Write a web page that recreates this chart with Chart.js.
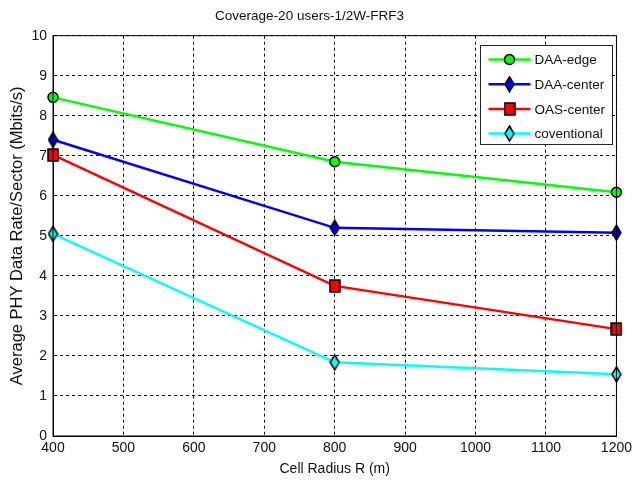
<!DOCTYPE html>
<html lang="en">
<head>
<meta charset="UTF-8">
<title>Coverage-20 users-1/2W-FRF3</title>
<script src="https://cdn.jsdelivr.net/npm/chart.js"></script>
<style>
  html, body { margin: 0; padding: 0; background: #fff; }
  .container { width: 636px; height: 485px; position: relative; }
</style>
</head>
<body>
<div class="container"><canvas id="chart"></canvas></div>
<script>
  // values
  const radius = [400, 800, 1200];
  const daaEdge = [8.46, 6.85, 6.09];
  const daaCenter = [7.4, 5.2, 5.08];
  const oasCenter = [7.02, 3.75, 2.67];
  const conventional = [5.05, 1.84, 1.54];
  const seriesNames = ['DAA-edge', 'DAA-center', 'OAS-center', 'coventional'];
  const xTicks = [400, 500, 600, 700, 800, 900, 1000, 1100, 1200];
  const yTicks = [0, 1, 2, 3, 4, 5, 6, 7, 8, 9, 10];

  const sans = "'Liberation Sans', Arial, sans-serif";

  // matlab style narrow diamond / square markers
  function marker(shape, fill, w, h) {
    const c = document.createElement('canvas');
    c.width = w + 2; c.height = h + 2;
    const g = c.getContext('2d');
    g.beginPath();
    if (shape === 'diamond') {
      g.moveTo(c.width / 2, 1); g.lineTo(c.width - 1, c.height / 2);
      g.lineTo(c.width / 2, c.height - 1); g.lineTo(1, c.height / 2);
      g.closePath();
    } else {
      g.rect(1, 1, w, h);
    }
    g.fillStyle = fill; g.fill();
    g.lineWidth = 1.5; g.strokeStyle = '#000'; g.stroke();
    return c;
  }

  const pts = vals => radius.map((r, i) => ({ x: r, y: vals[i] }));

  const datasets = [
    { label: seriesNames[0], data: pts(daaEdge), borderColor: '#00ff00',
      pointStyle: 'circle', pointRadius: 5, pointBackgroundColor: '#00ff00' },
    { label: seriesNames[1], data: pts(daaCenter), borderColor: '#0000ff',
      pointStyle: marker('diamond', '#0000ff', 9, 15), pointBackgroundColor: '#0000ff' },
    { label: seriesNames[2], data: pts(oasCenter), borderColor: '#ff0000',
      pointStyle: marker('rect', '#ff0000', 10, 12), pointBackgroundColor: '#ff0000' },
    { label: seriesNames[3], data: pts(conventional), borderColor: '#00ffff',
      pointStyle: marker('diamond', '#00ffff', 9, 15), pointBackgroundColor: '#00ffff' }
  ].map(d => Object.assign(d, {
    borderWidth: 2.5, pointBorderColor: '#000', pointBorderWidth: 1.5,
    pointHoverRadius: 5, tension: 0, fill: false, clip: false
  }));

  // solid axes box + legend box inside the plot
  const boxLegend = {
    id: 'boxLegend',
    afterDraw(chart) {
      const { ctx, chartArea: a } = chart;
      ctx.save();
      ctx.setLineDash([]);
      ctx.strokeStyle = '#000';
      ctx.lineWidth = 1;
      ctx.strokeRect(a.left, a.top, a.right - a.left, a.bottom - a.top);

      const w = 132, h = 99;
      const x0 = Math.round(a.right - 4 - w) + 0.5, y0 = Math.round(a.top + 9) + 0.5;
      ctx.fillStyle = '#fff';
      ctx.fillRect(x0, y0, w, h);
      ctx.strokeStyle = '#222';
      ctx.strokeRect(x0, y0, w, h);

      ctx.font = '13.5px ' + sans;
      ctx.textBaseline = 'middle';
      ctx.textAlign = 'left';
      chart.data.datasets.forEach((ds, i) => {
        const y = y0 + 14 + i * 24.7;
        ctx.strokeStyle = ds.borderColor;
        ctx.lineWidth = 2.5;
        ctx.beginPath();
        ctx.moveTo(x0 + 8, y); ctx.lineTo(x0 + 50, y);
        ctx.stroke();
        ctx.fillStyle = ds.pointBackgroundColor;
        ctx.strokeStyle = '#000';
        ctx.lineWidth = 1.5;
        Chart.helpers.drawPoint(ctx, { pointStyle: ds.pointStyle, radius: 5, rotation: 0, borderWidth: 1.5 }, x0 + 29, y);
        ctx.fillStyle = '#111';
        ctx.fillText(ds.label, x0 + 54, y + 1);
      });
      ctx.restore();
    }
  };

  const ctx = document.getElementById('chart').getContext('2d');
  new Chart(ctx, {
    type: 'line',
    data: { datasets: datasets },
    plugins: [boxLegend],
    options: {
      responsive: true,
      maintainAspectRatio: false,
      animation: false,
      layout: { padding: { left: 0, right: 17, top: 0, bottom: 0 } },
      plugins: {
        legend: { display: false },
        tooltip: { enabled: false },
        title: {
          display: true,
          text: 'Coverage-20 users-1/2W-FRF3',
          color: '#111',
          font: { family: sans, size: 13.5, weight: 'normal' },
          padding: { top: 8, bottom: 11.5 }
        }
      },
      scales: {
        x: {
          type: 'linear',
          min: xTicks[0],
          max: xTicks[xTicks.length - 1],
          afterBuildTicks: s => { s.ticks = xTicks.map(v => ({ value: v })); },
          afterFit: s => { s.height = 49; },
          grid: { color: '#111', lineWidth: 1, drawTicks: false },
          border: { color: '#000', width: 1, dash: [3, 3] },
          ticks: { color: '#111', padding: 4, maxRotation: 0, font: { family: sans, size: 14 },
                   callback: v => String(v) },
          title: {
            display: true,
            text: 'Cell Radius R (m)',
            color: '#111',
            font: { family: sans, size: 14 },
            padding: { top: 0, bottom: 7 }
          }
        },
        y: {
          min: yTicks[0],
          max: yTicks[yTicks.length - 1],
          afterBuildTicks: s => { s.ticks = yTicks.map(v => ({ value: v })); },
          afterFit: s => { s.width = 53; },
          grid: { color: '#111', lineWidth: 1, drawTicks: false },
          border: { color: '#000', width: 1, dash: [3, 3] },
          ticks: { color: '#111', padding: 6, font: { family: sans, size: 14 },
                   callback: v => String(v) },
          title: {
            display: true,
            text: 'Average PHY Data Rate/Sector (Mbits/s)',
            color: '#111',
            font: { family: sans, size: 16.5 },
            padding: { top: 8, bottom: 0 }
          }
        }
      }
    }
  });
</script>
</body>
</html>
